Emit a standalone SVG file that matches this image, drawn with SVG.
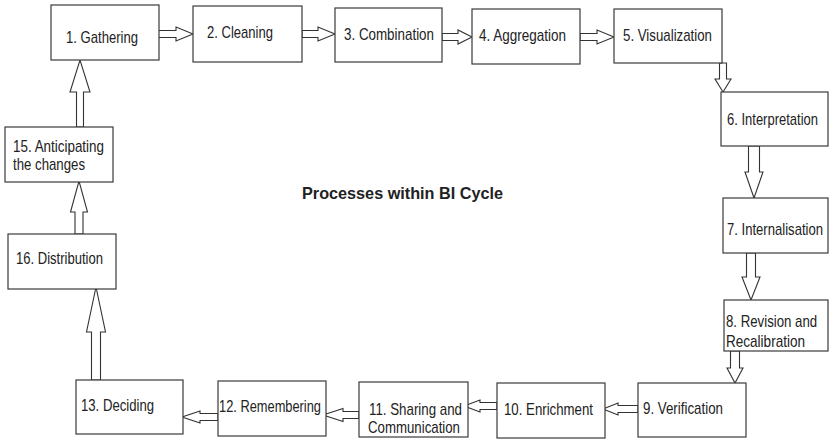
<svg xmlns="http://www.w3.org/2000/svg" width="829" height="440" viewBox="0 0 829 440">
  <style>
    .box { fill: #ffffff; stroke: #3a3a3a; stroke-width: 1.2; }
    .lbl { font-family: "Liberation Sans", Arial, sans-serif; font-size: 16px; fill: #222222; }
    .title { font-family: "Liberation Sans", Arial, sans-serif; font-size: 17px; font-weight: bold; fill: #222222; }
    .arr { fill: #ffffff; stroke: #333333; stroke-width: 1.1; stroke-linejoin: miter; }
  </style>
  <rect width="829" height="440" fill="#ffffff"/>

  <!-- block arrows between the stages -->
  <g id="connectors">
    <!-- top row, left to right -->
    <polygon class="arr" points="157,30.5 176,30.5 176,27 193,34 176,41 176,37.5 157,37.5"/>
    <polygon class="arr" points="302,30.5 318,30.5 318,27 335,34 318,41 318,37.5 302,37.5"/>
    <polygon class="arr" points="442,33.5 458,33.5 458,30 472,37 458,44 458,40.5 442,40.5"/>
    <polygon class="arr" points="580,33.5 597,33.5 597,30 614,37 597,44 597,40.5 580,40.5"/>
    <!-- right column, downwards -->
    <polygon class="arr" points="719.5,63 726.5,63 726.5,79 731,79 723,92 715,79 719.5,79"/>
    <polygon class="arr" points="748.5,146 759.5,146 759.5,172 763,172 754,198 745,172 748.5,172"/>
    <polygon class="arr" points="746.5,253 755.5,253 755.5,277 760,277 751,300 742,277 746.5,277"/>
    <polygon class="arr" points="730.5,351 739.5,351 739.5,368 743,368 735,383 727,368 730.5,368"/>
    <!-- bottom row, right to left -->
    <polygon class="arr" points="638,405.5 618,405.5 618,403 603,409 618,415 618,412.5 638,412.5"/>
    <polygon class="arr" points="497,402.5 480,402.5 480,400 464,406 480,412 480,409.5 497,409.5"/>
    <polygon class="arr" points="359,411.5 343,411.5 343,408.5 323,415 343,421.5 343,418.5 359,418.5"/>
    <polygon class="arr" points="218,413.5 200,413.5 200,411 182,417 200,423 200,420.5 218,420.5"/>
    <!-- left column, upwards -->
    <polygon class="arr" points="91.5,380 100.5,380 100.5,332 105.5,332 96,287 86.5,332 91.5,332"/>
    <polygon class="arr" points="75,234 83,234 83,212 87.5,212 79,181 70.5,212 75,212"/>
    <polygon class="arr" points="76.5,127 83.5,127 83.5,92 90,92 80,60 70,92 76.5,92"/>
  </g>

  <!-- labels use a horizontally condensed face: scale(0.8,1), lengths given in local units -->
  <g id="node-1">
    <rect class="box" x="51" y="5" width="108" height="55"/>
    <text class="lbl" transform="translate(66,43) scale(0.8,1)" textLength="90" lengthAdjust="spacingAndGlyphs">1. Gathering</text>
  </g>
  <g id="node-2">
    <rect class="box" x="193" y="6" width="109" height="56"/>
    <text class="lbl" transform="translate(207,38) scale(0.8,1)" textLength="82.5" lengthAdjust="spacingAndGlyphs">2. Cleaning</text>
  </g>
  <g id="node-3">
    <rect class="box" x="335" y="8" width="107" height="54"/>
    <text class="lbl" transform="translate(344,40) scale(0.8,1)" textLength="112.5" lengthAdjust="spacingAndGlyphs">3. Combination</text>
  </g>
  <g id="node-4">
    <rect class="box" x="472" y="9" width="108" height="55"/>
    <text class="lbl" transform="translate(479,41) scale(0.8,1)" textLength="108.75" lengthAdjust="spacingAndGlyphs">4. Aggregation</text>
  </g>
  <g id="node-5">
    <rect class="box" x="614" y="9" width="108" height="54"/>
    <text class="lbl" transform="translate(623,41) scale(0.8,1)" textLength="111.25" lengthAdjust="spacingAndGlyphs">5. Visualization</text>
  </g>
  <g id="node-6">
    <rect class="box" x="721" y="92" width="107" height="54"/>
    <text class="lbl" transform="translate(727,125) scale(0.8,1)" textLength="113.75" lengthAdjust="spacingAndGlyphs">6. Interpretation</text>
  </g>
  <g id="node-7">
    <rect class="box" x="723" y="198" width="105" height="55"/>
    <text class="lbl" transform="translate(727,235) scale(0.8,1)" textLength="120" lengthAdjust="spacingAndGlyphs">7. Internalisation</text>
  </g>
  <g id="node-8">
    <rect class="box" x="724" y="300" width="104" height="51"/>
    <text class="lbl" transform="translate(726,327) scale(0.8,1)" textLength="114" lengthAdjust="spacingAndGlyphs">8. Revision and</text>
    <text class="lbl" transform="translate(726,347) scale(0.8,1)" textLength="98.75" lengthAdjust="spacingAndGlyphs">Recalibration</text>
  </g>
  <g id="node-9">
    <rect class="box" x="638" y="383" width="108" height="54"/>
    <text class="lbl" transform="translate(643,414) scale(0.8,1)" textLength="100" lengthAdjust="spacingAndGlyphs">9. Verification</text>
  </g>
  <g id="node-10">
    <rect class="box" x="497" y="383" width="108" height="55"/>
    <text class="lbl" transform="translate(504,415) scale(0.8,1)" textLength="111.25" lengthAdjust="spacingAndGlyphs">10. Enrichment</text>
  </g>
  <g id="node-11">
    <rect class="box" x="359" y="382" width="109" height="55"/>
    <text class="lbl" transform="translate(369,415) scale(0.8,1)" textLength="116.25" lengthAdjust="spacingAndGlyphs">11. Sharing and</text>
    <text class="lbl" transform="translate(368,433) scale(0.8,1)" textLength="115" lengthAdjust="spacingAndGlyphs">Communication</text>
  </g>
  <g id="node-12">
    <rect class="box" x="218" y="381" width="108" height="55"/>
    <text class="lbl" transform="translate(219,412) scale(0.8,1)" textLength="127.5" lengthAdjust="spacingAndGlyphs">12. Remembering</text>
  </g>
  <g id="node-13">
    <rect class="box" x="76" y="380" width="107" height="54"/>
    <text class="lbl" transform="translate(81,411) scale(0.8,1)" textLength="91.25" lengthAdjust="spacingAndGlyphs">13. Deciding</text>
  </g>
  <g id="node-15">
    <rect class="box" x="5" y="127" width="108" height="55"/>
    <text class="lbl" transform="translate(13,152) scale(0.8,1)" textLength="113.75" lengthAdjust="spacingAndGlyphs">15. Anticipating</text>
    <text class="lbl" transform="translate(13,170) scale(0.8,1)" textLength="90" lengthAdjust="spacingAndGlyphs">the changes</text>
  </g>
  <g id="node-16">
    <rect class="box" x="8" y="234" width="108" height="55"/>
    <text class="lbl" transform="translate(16,264) scale(0.8,1)" textLength="108.75" lengthAdjust="spacingAndGlyphs">16. Distribution</text>
  </g>

  <text class="title" x="302" y="199" textLength="201" lengthAdjust="spacingAndGlyphs">Processes within BI Cycle</text>
</svg>
